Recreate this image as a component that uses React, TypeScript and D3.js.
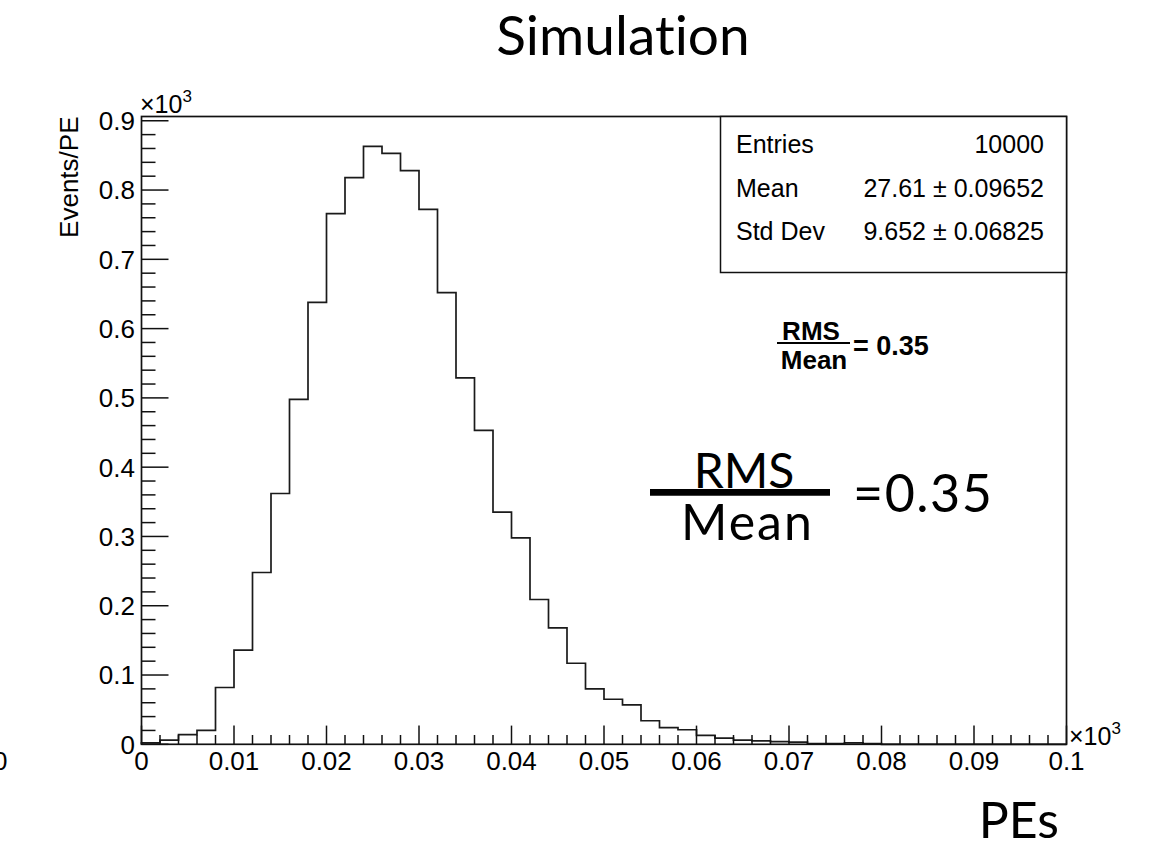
import * as d3 from "d3";
import { useEffect, useRef } from "react";

// bin contents, in units of 10^3 Events/PE, 50 bins of 0.002 (x10^3 PE)
const binValues = [
    0.002, 0.006, 0.014, 0.020, 0.082, 0.136, 0.248, 0.362, 0.498, 0.638,
    0.766, 0.818, 0.863, 0.853, 0.828, 0.772, 0.652, 0.529, 0.453, 0.335,
    0.298, 0.209, 0.168, 0.117, 0.080, 0.065, 0.057, 0.034, 0.024, 0.021,
    0.013, 0.009, 0.006, 0.005, 0.004, 0.003, 0.001, 0.001, 0.002, 0.001,
    0, 0, 0, 0, 0, 0, 0, 0, 0, 0,
];
const xMin = 0;
const xMax = 0.1;

const xTickLabels = ["0", "0.01", "0.02", "0.03", "0.04", "0.05", "0.06", "0.07", "0.08", "0.09", "0.1"];
const yTickLabels = ["0", "0.1", "0.2", "0.3", "0.4", "0.5", "0.6", "0.7", "0.8", "0.9"];

const statsRows = [
    ["Entries", "10000"],
    ["Mean", "27.61 \u00b1 0.09652"],
    ["Std Dev", "9.652 \u00b1 0.06825"],
];

const ROOT_FONT = "'Liberation Sans', Arial, Helvetica, sans-serif";
const NICE_FONT = "Lato, 'Open Sans', sans-serif";

function drawChart(svgEl: SVGSVGElement) {
    const svg = d3.select(svgEl);
    svg.selectAll("*").remove();

    const frame = { left: 141.5, right: 1066.5, top: 116.5, bottom: 744.3 };

    const binWidth = (xMax - xMin) / binValues.length;
    const yMax = 1.05 * (d3.max(binValues) ?? 1);

    const scX = d3.scaleLinear().domain([xMin, xMax]).range([frame.left, frame.right]);
    const scY = d3.scaleLinear().domain([0, yMax]).range([frame.bottom, frame.top]);

    svg.append("rect")
        .attr("width", 1160).attr("height", 843)
        .attr("fill", "white");

    // title
    svg.append("text")
        .attr("x", 623).attr("y", 55)
        .attr("text-anchor", "middle")
        .style("font-family", NICE_FONT)
        .style("font-size", "55px")
        .style("font-variant-ligatures", "none")
        .text("Simulation");

    // histogram outline
    const pts: [number, number][] = [[scX(xMin), scY(0)]];
    binValues.forEach((v, i) => {
        const x0 = xMin + i * binWidth;
        pts.push([scX(x0), scY(v)]);
        pts.push([scX(x0 + binWidth), scY(v)]);
    });
    pts.push([scX(xMax), scY(0)]);

    svg.append("path")
        .attr("d", d3.line()(pts))
        .attr("fill", "none")
        .attr("stroke", "#1a1a1a")
        .attr("stroke-width", 1.7);

    // frame
    svg.append("rect")
        .attr("x", frame.left).attr("y", frame.top)
        .attr("width", frame.right - frame.left)
        .attr("height", frame.bottom - frame.top)
        .attr("fill", "none")
        .attr("stroke", "#111")
        .attr("stroke-width", 1.7);

    // y ticks
    const yMinor = d3.range(0, yMax, 0.02);
    svg.append("g").selectAll("line")
        .data(yMinor)
        .enter()
        .append("line")
        .attr("x1", frame.left)
        .attr("x2", (d, i) => frame.left + (i % 5 === 0 ? 27 : 14))
        .attr("y1", d => scY(d)).attr("y2", d => scY(d))
        .attr("stroke", "#111").attr("stroke-width", 1.5);

    svg.append("g").selectAll("text")
        .data(yTickLabels)
        .enter()
        .append("text")
        .attr("x", 135)
        .attr("y", (d, i) => scY(i * 0.1))
        .attr("dy", "0.36em")
        .attr("text-anchor", "end")
        .style("font-family", ROOT_FONT)
        .style("font-size", "26px")
        .text(d => d);

    // x ticks
    const xMinor = d3.range(0, 51).map(i => xMin + i * 0.002);
    svg.append("g").selectAll("line")
        .data(xMinor)
        .enter()
        .append("line")
        .attr("x1", d => scX(d)).attr("x2", d => scX(d))
        .attr("y1", frame.bottom)
        .attr("y2", (d, i) => frame.bottom - (i % 5 === 0 ? 18.7 : 9.3))
        .attr("stroke", "#111").attr("stroke-width", 1.5);

    svg.append("g").selectAll("text")
        .data(xTickLabels)
        .enter()
        .append("text")
        .attr("x", (d, i) => scX(i * 0.01))
        .attr("y", 770)
        .attr("text-anchor", "middle")
        .style("font-family", ROOT_FONT)
        .style("font-size", "26px")
        .text(d => d);

    // stray label cut by the left edge of the picture
    svg.append("text")
        .attr("x", -7).attr("y", 770)
        .style("font-family", ROOT_FONT)
        .style("font-size", "26px")
        .text("0");

    // x10^3 exponents
    const exp = (x: number, y: number) => {
        const t = svg.append("text")
            .attr("x", x).attr("y", y)
            .style("font-family", ROOT_FONT)
            .style("font-size", "25px");
        t.append("tspan").text("\u00d710");
        t.append("tspan").attr("dy", -11).style("font-size", "17px").text("3");
    };
    exp(140, 113);
    exp(1069, 745);

    // axis titles
    svg.append("text")
        .attr("transform", `translate(78, ${frame.top}) rotate(-90)`)
        .attr("text-anchor", "end")
        .style("font-family", ROOT_FONT)
        .style("font-size", "26px")
        .text("Events/PE");

    svg.append("text")
        .attr("x", 1059).attr("y", 838)
        .attr("text-anchor", "end")
        .style("font-family", NICE_FONT)
        .style("font-size", "50px")
        .text("PEs");

    // stats box
    const box = { left: 720.5, top: frame.top, right: frame.right, bottom: 272.5 };
    svg.append("rect")
        .attr("x", box.left).attr("y", box.top)
        .attr("width", box.right - box.left)
        .attr("height", box.bottom - box.top)
        .attr("fill", "white")
        .attr("stroke", "#111")
        .attr("stroke-width", 1.5);

    const rowY = [153, 196.5, 240];
    statsRows.forEach((row, i) => {
        svg.append("text")
            .attr("x", 736).attr("y", rowY[i])
            .style("font-family", ROOT_FONT)
            .style("font-size", "25px")
            .text(row[0]);
        svg.append("text")
            .attr("x", 1044).attr("y", rowY[i])
            .attr("text-anchor", "end")
            .style("font-family", ROOT_FONT)
            .style("font-size", "25px")
            .text(row[1]);
    });

    // small bold ratio
    const small = svg.append("g").style("font-family", ROOT_FONT)
        .style("font-weight", "bold").style("font-size", "26px");
    small.append("text").attr("x", 811).attr("y", 340).attr("text-anchor", "middle").text("RMS");
    small.append("line").attr("x1", 777).attr("x2", 850).attr("y1", 343).attr("y2", 343)
        .attr("stroke", "black").attr("stroke-width", 2.2);
    small.append("text").attr("x", 814).attr("y", 369).attr("text-anchor", "middle").text("Mean");
    small.append("text").attr("x", 853).attr("y", 355)
        .style("font-size", "27px").text("= 0.35");

    // big ratio
    const big = svg.append("g").style("font-family", NICE_FONT).style("font-size", "48px");
    big.append("text").attr("x", 744).attr("y", 488).attr("text-anchor", "middle").text("RMS");
    big.append("line").attr("x1", 650).attr("x2", 830).attr("y1", 492.3).attr("y2", 492.3)
        .attr("stroke", "black").attr("stroke-width", 6.7);
    big.append("text").attr("x", 681).attr("y", 540)
        .style("font-size", "50px").style("letter-spacing", "2px").text("Mean");
    big.append("text").attr("x", 853).attr("y", 512)
        .style("font-size", "52px").style("letter-spacing", "1.5px").text("=0.35");
}

function App() {
    const svgRef = useRef<SVGSVGElement>(null);

    useEffect(() => {
        if (svgRef.current)
            drawChart(svgRef.current);
    }, []);

    return (
        <svg
            ref={svgRef}
            width={1160}
            height={843}
            style={{ position: "absolute", left: 0, top: 0 }}
        ></svg>
    );
}

export default App;
